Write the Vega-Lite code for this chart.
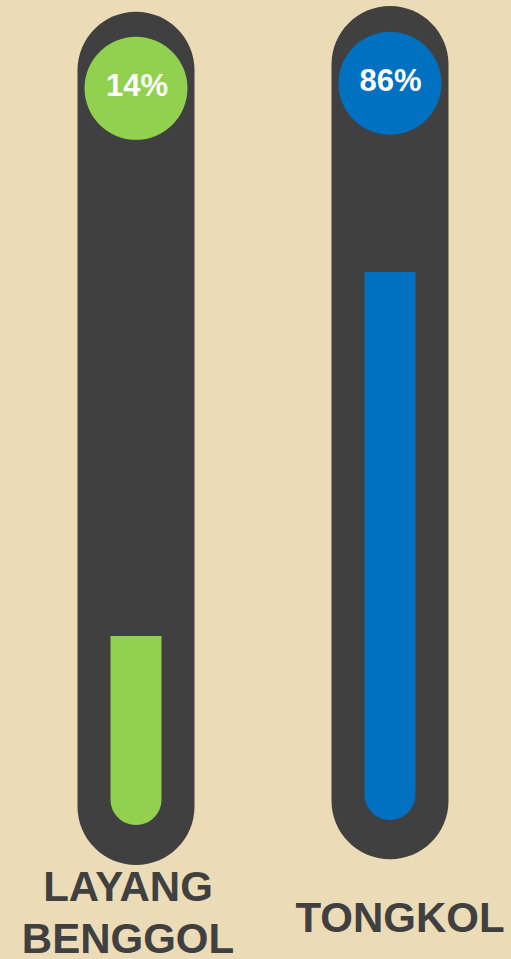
{
  "$schema": "https://vega.github.io/schema/vega-lite/v6.json",
  "width": 511,
  "height": 959,
  "autosize": {"type": "none"},
  "padding": 0,
  "background": "#ecdbb7",
  "config": {"view": {"stroke": null}, "font": "Liberation Sans"},
  "data": {
    "values": [
      {"jenis": "LAYANG BENGGOL", "value": 0.14},
      {"jenis": "TONGKOL", "value": 0.86}
    ]
  },
  "encoding": {
    "x": {
      "field": "jenis",
      "type": "nominal",
      "scale": {"type": "point", "domain": ["LAYANG BENGGOL", "TONGKOL"], "range": [136, 390], "padding": 0},
      "axis": null
    }
  },
  "layer": [
    {
      "transform": [{"filter": "datum.jenis == 'LAYANG BENGGOL'"}],
      "mark": {"type": "bar", "width": 117, "cornerRadius": 58.5, "color": "#404040"},
      "encoding": {
        "y": {"datum": 1.3748, "type": "quantitative", "scale": {"domain": [0, 1], "range": [706.8, 201.2], "zero": false, "nice": false}, "axis": null},
        "y2": {"datum": -0.3129}
      }
    },
    {
      "transform": [{"filter": "datum.jenis == 'TONGKOL'"}],
      "mark": {"type": "bar", "width": 117, "cornerRadius": 58.5, "color": "#404040"},
      "encoding": {
        "y": {"datum": 1.3861, "type": "quantitative"},
        "y2": {"datum": -0.3016}
      }
    },
    {
      "transform": [{"filter": "datum.jenis == 'LAYANG BENGGOL'"}],
      "mark": {"type": "bar", "width": 51, "cornerRadiusBottomLeft": 25.5, "cornerRadiusBottomRight": 25.5},
      "encoding": {
        "y": {"field": "value", "type": "quantitative"},
        "y2": {"datum": -0.2338},
        "color": {"field": "jenis", "type": "nominal", "scale": {"domain": ["LAYANG BENGGOL", "TONGKOL"], "range": ["#92d050", "#0070c0"]}, "legend": null}
      }
    },
    {
      "transform": [{"filter": "datum.jenis == 'TONGKOL'"}],
      "mark": {"type": "bar", "width": 51, "cornerRadiusBottomLeft": 25.5, "cornerRadiusBottomRight": 25.5},
      "encoding": {
        "y": {"field": "value", "type": "quantitative"},
        "y2": {"datum": -0.2239},
        "color": {"field": "jenis", "type": "nominal", "legend": null}
      }
    },
    {
      "transform": [{"filter": "datum.jenis == 'LAYANG BENGGOL'"}],
      "mark": {"type": "point", "shape": "circle", "filled": true, "opacity": 1, "size": 10609},
      "encoding": {
        "y": {"datum": 1.2233, "type": "quantitative"},
        "color": {"field": "jenis", "type": "nominal", "legend": null}
      }
    },
    {
      "transform": [{"filter": "datum.jenis == 'TONGKOL'"}],
      "mark": {"type": "point", "shape": "circle", "filled": true, "opacity": 1, "size": 10609},
      "encoding": {
        "y": {"datum": 1.2332, "type": "quantitative"},
        "color": {"field": "jenis", "type": "nominal", "legend": null}
      }
    },
    {
      "transform": [{"filter": "datum.jenis == 'LAYANG BENGGOL'"}],
      "mark": {"type": "text", "fontSize": 31, "fontWeight": "bold", "color": "white", "align": "center", "baseline": "middle", "dx": 1, "font": "Liberation Sans"},
      "encoding": {
        "y": {"datum": 1.2253, "type": "quantitative"},
        "text": {"field": "value", "type": "quantitative", "format": ".0%"}
      }
    },
    {
      "transform": [{"filter": "datum.jenis == 'TONGKOL'"}],
      "mark": {"type": "text", "fontSize": 31, "fontWeight": "bold", "color": "white", "align": "center", "baseline": "middle", "dx": 0.5, "font": "Liberation Sans"},
      "encoding": {
        "y": {"datum": 1.2352, "type": "quantitative"},
        "text": {"field": "value", "type": "quantitative", "format": ".0%"}
      }
    },
    {
      "transform": [{"filter": "datum.jenis == 'LAYANG BENGGOL'"}],
      "mark": {"type": "text", "fontSize": 42, "fontWeight": "bold", "color": "#404040", "align": "center", "baseline": "middle", "lineBreak": " ", "lineHeight": 52, "dx": -8, "font": "Liberation Sans"},
      "encoding": {
        "y": {"datum": -0.3584, "type": "quantitative"},
        "text": {"field": "jenis", "type": "nominal"}
      }
    },
    {
      "transform": [{"filter": "datum.jenis == 'TONGKOL'"}],
      "mark": {"type": "text", "fontSize": 42, "fontWeight": "bold", "color": "#404040", "align": "center", "baseline": "middle", "dx": 10, "font": "Liberation Sans"},
      "encoding": {
        "y": {"datum": -0.4193, "type": "quantitative"},
        "text": {"field": "jenis", "type": "nominal"}
      }
    }
  ]
}
